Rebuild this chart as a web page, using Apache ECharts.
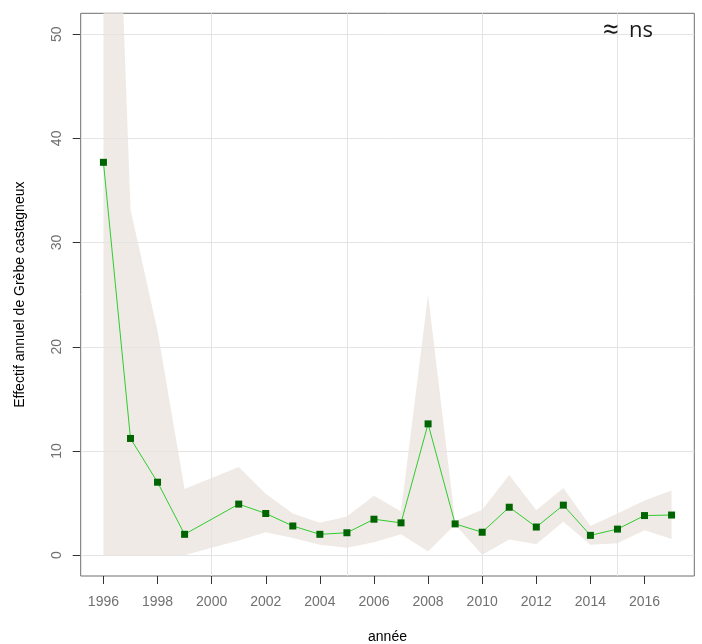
<!DOCTYPE html>
<html>
<head>
<meta charset="utf-8">
<script src="https://cdn.jsdelivr.net/npm/echarts@6/dist/echarts.min.js"></script>
<style>
html,body{margin:0;padding:0;background:#fff;}
#chart{width:702px;height:644px;}
</style>
</head>
<body>
<div id="chart"></div>
<script>
const years = [1996,1997,1998,1999,2000,2001,2002,2003,2004,2005,2006,2007,2008,2009,2010,2011,2012,2013,2014,2015,2016,2017];
const effectif = [37.7,11.2,7.0,2.0,null,4.9,4.0,2.8,2.0,2.15,3.45,3.1,12.6,3.0,2.2,4.6,2.7,4.8,1.9,2.5,3.8,3.85];
const upper = [105,33.2,21.5,6.35,7.4,8.45,5.9,4.0,3.1,3.7,5.7,4.2,25.0,3.25,4.35,7.7,4.3,6.45,2.8,4.0,5.25,6.2];
const lower = [0,0,0,0,0.7,1.4,2.2,1.65,1.0,0.7,1.25,2.0,0.35,2.95,0.05,1.5,1.05,3.2,1.0,1.15,2.4,1.55];
const xTicks = [1996,1998,2000,2002,2004,2006,2008,2010,2012,2014,2016];
const yTicks = [0,10,20,30,40,50];
const xGrid = [2000,2005,2010,2015];
const yGrid = [0,10,20,30,40,50];

const chart = echarts.init(document.getElementById('chart'), null, {renderer:'canvas'});
const font = 'Liberation Sans, Arial, sans-serif';
const option = {
  animation:false,
  grid:{left:80.7,right:7.7,top:13.3,bottom:68,containLabel:false,outerBoundsMode:'none',show:true,borderColor:'#6e6e6e',borderWidth:1,backgroundColor:'transparent'},
  xAxis:{
    type:'value',min:1995.16,max:2017.84,
    axisLine:{show:false,onZero:false},
    axisTick:{show:true,length:8,customValues:xTicks,lineStyle:{color:'#333'}},
    axisLabel:{customValues:xTicks,color:'#707070',fontSize:14,fontFamily:font,margin:19,formatter:v=>String(v)},
    splitLine:{show:false},
    name:'année',nameLocation:'middle',nameGap:54,
    nameTextStyle:{color:'#000',fontSize:14,fontFamily:font}
  },
  yAxis:{
    type:'value',min:-2,max:52,
    axisLine:{show:false,onZero:false},
    axisTick:{show:true,length:8,customValues:yTicks,lineStyle:{color:'#333'}},
    axisLabel:{customValues:yTicks,color:'#707070',fontSize:14,fontFamily:font,margin:17,rotate:90,formatter:v=>String(v)},
    splitLine:{show:false},
    name:'Effectif annuel de Grèbe castagneux',nameLocation:'middle',nameGap:54,nameRotate:90,
    nameTextStyle:{color:'#000',fontSize:14,fontFamily:font}
  },
  graphic:[
    {type:'text',left:603,top:17,z:10,
     style:{text:'≈',fontSize:28,fontFamily:'Open Sans, sans-serif',fill:'#1a1a1a'}},
    {type:'text',left:629,top:20,z:10,
     style:{text:'ns',fontSize:22,fontFamily:'Open Sans, sans-serif',fill:'#1a1a1a'}}
  ],
  series:[
    {
      type:'custom',name:'band',z:1,clip:true,silent:true,
      data:[[0]],
      renderItem:function(params,api){
        const pts=[];
        for(let i=0;i<years.length;i++) pts.push(api.coord([years[i],upper[i]]));
        for(let i=years.length-1;i>=0;i--) pts.push(api.coord([years[i],lower[i]]));
        return {type:'polygon',shape:{points:pts},style:{fill:'#f0eae6',stroke:null}};
      }
    },
    {
      type:'line',name:'grid',z:2,data:[],silent:true,
      markLine:{
        silent:true,symbol:'none',animation:false,label:{show:false},
        lineStyle:{color:'#e4e4e4',width:1,type:'solid'},
        emphasis:{disabled:true},
        data:xGrid.map(v=>({xAxis:v})).concat(yGrid.map(v=>({yAxis:v})))
      }
    },
    {
      type:'line',name:'effectif',z:5,connectNulls:true,
      data:years.map((y,i)=>[y,effectif[i]]),
      symbol:'rect',symbolSize:7,
      lineStyle:{color:'#2ecc2e',width:1},
      itemStyle:{color:'#006400'}
    }
  ]
};
chart.setOption(option);
</script>
</body>
</html>
